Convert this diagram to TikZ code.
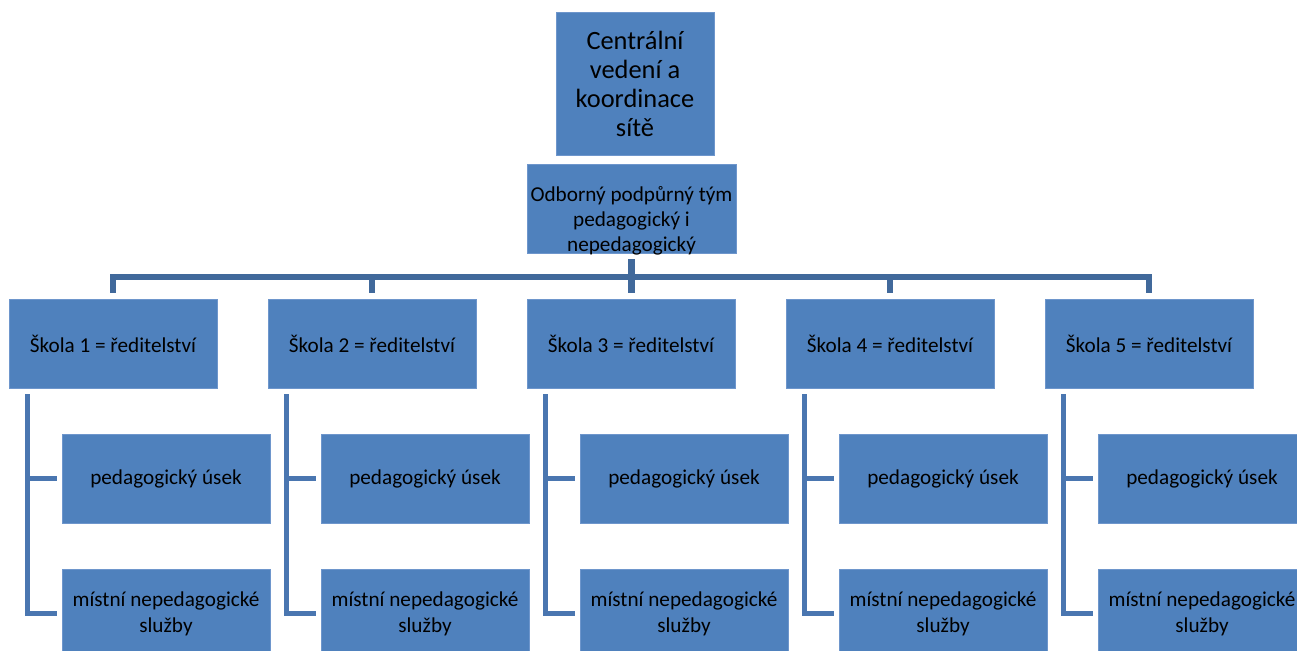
\documentclass[tikz,border=0pt]{standalone}
\usepackage{fontspec}
\setmainfont{Carlito}
\definecolor{boxblue}{HTML}{4F81BD}
\definecolor{boxedge}{HTML}{6E96CC}
\definecolor{barblue}{HTML}{41699B}
\definecolor{brblue}{HTML}{4A76B0}
\tikzset{
  unit/.style={fill=boxblue, draw=boxedge, line width=0.4pt, inner sep=0pt,
    minimum width=104pt, minimum height=44.5pt, align=center,
    font=\fontsize{10.6pt}{13pt}\selectfont},
  bar/.style={draw=barblue, line width=3.25pt},
  bracket/.style={draw=brblue, line width=2.75pt},
}
\begin{document}
\begin{tikzpicture}[x=0.5pt,y=-0.5pt]
                \path[use as bounding box] (0,0) rectangle (1297,651);
                \clip (0,0) rectangle (1297,651);

                % top of the network
                \node[unit, minimum width=79pt, minimum height=71.5pt,
                  font=\fontsize{13.2pt}{14.5pt}\selectfont] (central) at (635,83.5)
                  {Centrální\\vedení a\\koordinace\\sítě};
                \node[unit, minimum width=104.5pt] (tym) at (631.5,208.5) {};
                \node[align=center, inner sep=0pt, font=\fontsize{10.6pt}{12.5pt}\selectfont]
                  (tymtext) at (631.5,221) {Odborný podpůrný tým\\pedagogický i\\nepedagogický};

                % schools with their two sections
                \foreach \i in {1,...,5} {
                  \node[unit] (skola\i) at ({113+259*(\i-1)},343.5) {Škola \i{} = ředitelství};
                  \node[unit] (ped\i) at ({166+259*(\i-1)},478.5) {pedagogický úsek};
                  \node[unit] (sluz\i) at ({166+259*(\i-1)},613.5) {místní nepedagogické\\služby};
                  \coordinate (trunk\i) at ([xshift=9.5pt,yshift=-3pt]skola\i.south west);
                  \draw[bracket] (trunk\i) |- ([xshift=-2.5pt]sluz\i.west);
                  \draw[bracket] (trunk\i |- ped\i.west) -- ([xshift=-2.5pt]ped\i.west);
                }

                \coordinate (hub) at (630.5,277);
                \draw[bar] ([yshift=3pt]skola1.north) |- (hub) -| ([yshift=3pt]skola5.north);
                \draw[bar] ([yshift=3pt]skola2.north) -- (skola2.north |- hub);
                \draw[bar] ([yshift=3pt]skola4.north) -- (skola4.north |- hub);
                \draw[bar] ([yshift=-3pt]tym.south) -- ([yshift=3pt]tym.south |- skola3.north);
            \end{tikzpicture}
\end{document}
